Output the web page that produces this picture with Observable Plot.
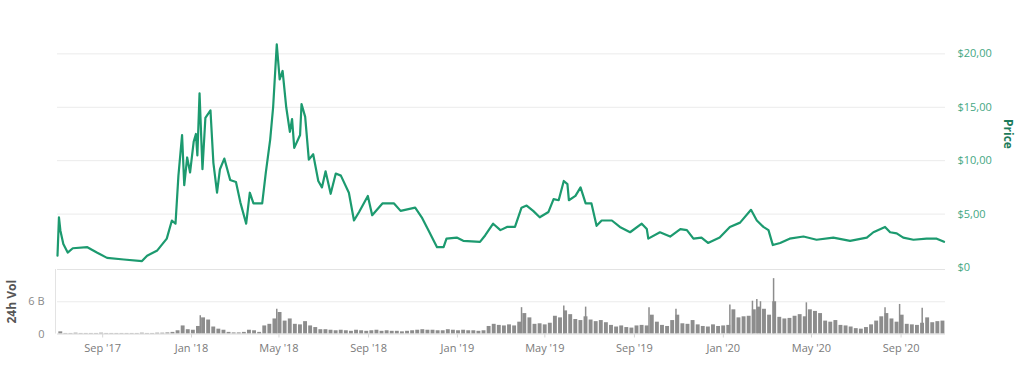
<!DOCTYPE html>
<html>
<head>
<meta charset="utf-8">
<script src="https://cdn.jsdelivr.net/npm/d3@7"></script>
<script src="https://cdn.jsdelivr.net/npm/@observablehq/plot@0.6"></script>
<style>
  html, body { margin: 0; padding: 0; background: #fff; }
  #chart { width: 1024px; height: 368px; position: relative; }
  #chart svg { display: block; overflow: visible; }
</style>
</head>
<body>
<div id="chart"></div>
<script>
// ---- Price series (USD) ----
const priceDates = [
"2017-07-01","2017-07-03","2017-07-05","2017-07-09","2017-07-15","2017-07-22","2017-08-11","2017-08-24","2017-09-07","2017-09-30",
"2017-10-25","2017-11-01","2017-11-15","2017-11-28","2017-12-05","2017-12-10","2017-12-14","2017-12-19","2017-12-22","2017-12-26",
"2017-12-30","2018-01-04","2018-01-07","2018-01-09","2018-01-12","2018-01-16","2018-01-20","2018-01-27","2018-01-31","2018-02-05",
"2018-02-09","2018-02-15","2018-02-23","2018-03-03","2018-03-09","2018-03-17","2018-03-22","2018-03-27","2018-04-08","2018-04-13",
"2018-04-19","2018-04-23","2018-04-28","2018-05-02","2018-05-06","2018-05-11","2018-05-16","2018-05-19","2018-05-22","2018-05-30",
"2018-06-01","2018-06-06","2018-06-11","2018-06-17","2018-06-24","2018-06-29","2018-07-04","2018-07-11","2018-07-18","2018-07-25",
"2018-08-05","2018-08-12","2018-08-19","2018-08-31","2018-09-06","2018-09-20","2018-10-06","2018-10-15","2018-11-04","2018-11-13",
"2018-11-22","2018-12-04","2018-12-13","2018-12-17","2018-12-31","2019-01-09","2019-02-01","2019-02-08","2019-02-19","2019-03-01",
"2019-03-10","2019-03-21","2019-03-30","2019-04-06","2019-04-15","2019-04-24","2019-05-06","2019-05-13","2019-05-20","2019-05-27",
"2019-06-01","2019-06-03","2019-06-12","2019-06-19","2019-06-26","2019-07-04","2019-07-11","2019-07-18","2019-08-01","2019-08-12",
"2019-08-26","2019-09-11","2019-09-18","2019-09-20","2019-10-06","2019-10-20","2019-11-03","2019-11-12","2019-11-21","2019-12-02",
"2019-12-11","2019-12-27","2020-01-10","2020-01-24","2020-02-08","2020-02-16","2020-02-25","2020-03-03","2020-03-09","2020-03-19",
"2020-04-01","2020-04-20","2020-05-08","2020-05-31","2020-06-23","2020-07-16","2020-07-25","2020-08-10","2020-08-17","2020-08-26",
"2020-09-04","2020-09-18","2020-10-06","2020-10-20","2020-10-30"
];
const priceValues = [
1.1,4.7,3.45,2.2,1.4,1.8,1.9,1.4,0.9,0.75,
0.6,1.1,1.6,2.7,4.4,4.1,8.6,12.4,7.7,10.3,
8.9,11.8,12.5,10.5,16.3,9.2,14.0,14.7,9.8,7.0,
9.2,10.2,8.2,8.0,6.1,4.1,7.0,6.0,6.0,8.9,
12.0,15.0,20.9,17.6,18.4,15.0,12.7,13.9,11.2,12.4,
15.3,14.1,10.1,10.6,8.1,7.5,9.0,6.9,8.8,8.6,
7.0,4.4,5.2,6.7,4.9,6.0,6.0,5.3,5.6,4.7,
3.5,1.9,1.9,2.7,2.8,2.5,2.4,3.0,4.1,3.5,
3.8,3.8,5.6,5.8,5.3,4.7,5.2,6.4,6.3,8.1,
7.8,6.3,6.7,7.5,6.0,6.0,3.9,4.4,4.4,3.8,
3.3,4.1,3.6,2.7,3.3,2.9,3.6,3.5,2.7,2.8,
2.3,2.8,3.8,4.2,5.4,4.4,3.8,3.5,2.1,2.3,
2.7,2.9,2.6,2.8,2.5,2.8,3.3,3.8,3.3,3.2,
2.8,2.6,2.7,2.7,2.4
];

// ---- 24h volume (billions USD), one value per week starting 2017-07-02 ----
const volStart = "2017-07-02";
const volEnd = "2020-10-26";
const volValues = [
0.4,0.1,0.1,0.15,0.1,0.1,0.1,0.1,0.15,0.1,
0.1,0.1,0.1,0.1,0.1,0.1,0.15,0.1,0.1,0.15,
0.15,0.2,0.3,0.6,1.5,0.8,0.7,1.4,3.0,2.6,
1.3,0.9,0.7,0.3,0.2,0.2,0.3,0.7,0.6,0.3,
1.5,1.8,2.8,4.0,2.4,2.8,1.8,1.7,2.3,1.5,
1.2,0.8,0.8,0.7,0.6,0.7,0.6,0.5,0.7,0.6,
0.5,0.6,0.7,0.5,0.6,0.5,0.5,0.4,0.5,0.6,
0.7,0.8,0.7,0.7,0.6,0.6,0.8,0.7,0.6,0.7,
0.6,0.6,0.5,0.6,1.4,1.8,1.6,1.5,1.7,1.5,
2.2,3.8,3.0,1.8,1.9,1.7,2.0,3.3,3.0,4.3,
3.6,2.7,2.5,3.2,2.6,2.3,2.5,2.1,1.6,1.3,
1.5,1.2,1.1,1.5,1.6,1.5,3.5,2.2,1.6,1.4,
2.5,3.5,1.9,1.8,2.5,1.7,1.4,1.3,1.7,1.4,
1.5,1.6,4.5,3.0,3.2,3.3,4.5,5.0,4.6,3.5,
6.0,3.1,2.8,2.9,3.3,3.6,3.2,4.5,4.2,3.8,
2.4,2.2,2.5,1.6,1.5,1.3,1.0,0.9,1.2,1.7,
2.4,3.2,3.8,2.8,2.2,3.5,1.8,1.7,1.6,2.0,
3.0,2.1,2.3,2.4
];
// single-day volume spikes (billions USD)
const spikeDates = ["2018-01-13","2018-04-28","2019-03-30","2019-05-27","2019-06-26","2019-09-21","2019-10-28","2020-01-10","2020-02-10","2020-02-16","2020-02-21","2020-03-10","2020-04-24","2020-08-10","2020-08-30","2020-09-30"];
const spikeValues = [3.4,4.6,4.9,5.2,5.0,4.9,4.6,5.4,6.1,6.4,6.0,10.3,5.8,4.9,5.5,4.8];

// ---- axes ----
const xDomain = ["2017-07-01","2020-11-01"];
const xTickDates = ["2017-09-01","2018-01-01","2018-05-01","2018-09-01","2019-01-01","2019-05-01","2019-09-01","2020-01-01","2020-05-01","2020-09-01"];
const priceTicks = [0,5,10,15,20];
const priceTickLabels = ["$0","$5,00","$10,00","$15,00","$20,00"];
const volTicks = [0,6];
const volTickLabels = ["0","6 B"];

const parse = d3.utcParse("%Y-%m-%d");
const price = priceDates.map((d,i) => ({date: parse(d), v: priceValues[i]}));
const weeks = d3.utcWeek.range(parse(volStart), parse(volEnd));
const vol = volValues.map((v,i) => ({date: weeks[i], v}));
const spikes = spikeDates.map((d,i) => ({date: parse(d), v: spikeValues[i]}));
const xd = xDomain.map(parse);
const font = "'Open Sans', 'DejaVu Sans', sans-serif";

const green = "#1c9a6f";

const pricePlot = Plot.plot({
  width: 1024, height: 268,
  marginLeft: 57, marginRight: 79, marginTop: 32, marginBottom: 1,
  style: {fontFamily: font, fontSize: "11px", background: "transparent", overflow: "visible"},
  x: {type: "utc", domain: xd, axis: null},
  y: {domain: [0, 22], axis: null},
  marks: [
    Plot.ruleY([5,10,15,20], {stroke: "#ebebeb", strokeWidth: 1}),
    Plot.axisY(priceTicks, {anchor: "right", tickSize: 0, tickPadding: 12, label: null,
      tickFormat: (d) => priceTickLabels[priceTicks.indexOf(d)], fill: "#45a783", fontSize: 11}),
    Plot.line(price, {x: "date", y: "v", stroke: green, strokeWidth: 2.2, strokeLinejoin: "round"}),
    Plot.text(["Price"], {frameAnchor: "right", textAnchor: "middle", dx: 62, dy: -16, rotate: 90,
      fill: "#1d7b5a", fontWeight: "bold", fontSize: 12})
  ]
});

const volPlot = Plot.plot({
  width: 1024, height: 100,
  marginLeft: 57, marginRight: 79, marginTop: 1, marginBottom: 34.5,
  style: {fontFamily: font, fontSize: "11px", background: "transparent", overflow: "visible"},
  x: {type: "utc", domain: xd},
  y: {domain: [0, 12]},
  marks: [
    Plot.ruleY([6], {stroke: "#ebebeb"}),
    Plot.ruleY([12], {stroke: "#e3e3e3"}),
    Plot.ruleX([xd[0]], {stroke: "#e3e3e3", dx: -2}),
    Plot.rectY(vol, {x: "date", y: "v", interval: d3.utcWeek, fill: "#8d8d8d", insetLeft: 0.6, insetRight: 0.6}),
    Plot.ruleX(spikes, {x: "date", y1: 0, y2: "v", stroke: "#8d8d8d", strokeWidth: 1.5}),
    Plot.ruleY([0], {stroke: "#d8d8d8"}),
    Plot.axisY(volTicks, {anchor: "left", tickSize: 0, tickPadding: 13,
      tickFormat: (d) => volTickLabels[volTicks.indexOf(d)], fill: "#8a8a8a", fontSize: 11, label: null}),
    Plot.axisX(xTickDates.map(parse), {anchor: "bottom", tickSize: 4, tickPadding: 6,
      stroke: "#d6d6d6", fill: "#7a7a7a", tickFormat: d3.utcFormat("%b '%y"), fontSize: 11, label: null}),
    Plot.text(["24h Vol"], {frameAnchor: "left", textAnchor: "middle", dx: -45, rotate: -90,
      fill: "#555", fontWeight: "bold", fontSize: 12})
  ]
});

const root = document.getElementById("chart");
root.appendChild(pricePlot);
root.appendChild(volPlot);
</script>
</body>
</html>
